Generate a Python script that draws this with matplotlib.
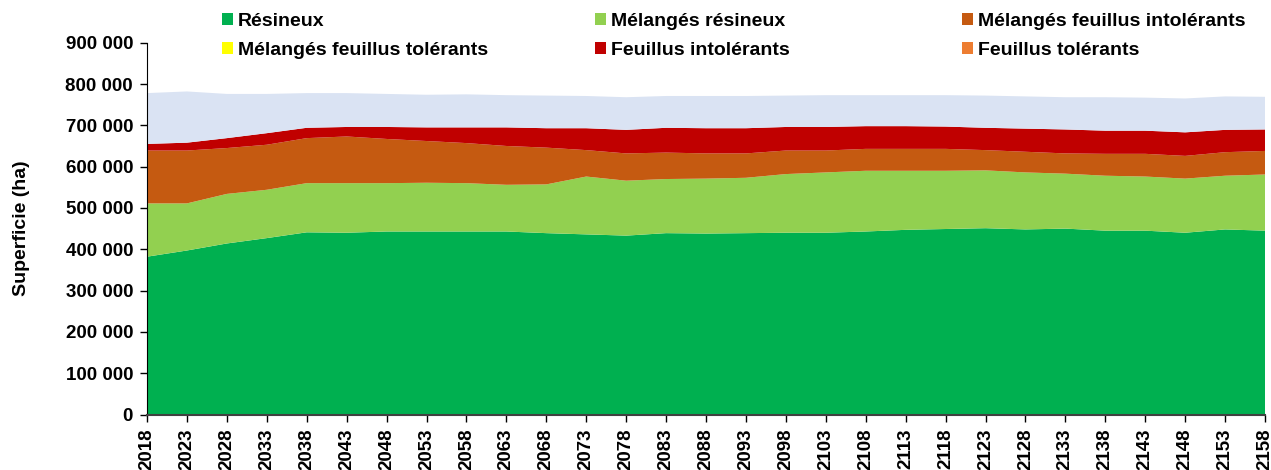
import numpy as np
import matplotlib
matplotlib.use("Agg")
import matplotlib.pyplot as plt
from matplotlib.patches import Patch
from matplotlib.ticker import FuncFormatter

# Données (ha)
annees = list(range(2018, 2159, 5))

resineux = [382000, 397000, 414000, 427000, 441000, 440000, 443000, 443000, 443000, 443000,
            439000, 436000, 433000, 439000, 438000, 439000, 440000, 440000, 443000, 447000,
            449000, 451000, 448000, 450000, 445000, 445000, 440000, 448000, 445000]
melanges_resineux = [129000, 114000, 120000, 117000, 119000, 120000, 117000, 118000, 117000, 113000,
                     118000, 140000, 133000, 131000, 133000, 134000, 142000, 146000, 147000, 143000,
                     141000, 140000, 138000, 133000, 133000, 131000, 131000, 130000, 136000]
melanges_feuillus_into = [128000, 128000, 111000, 109000, 109000, 113000, 107000, 101000, 97000, 94000,
                          89000, 64000, 66000, 64000, 61000, 59000, 57000, 53000, 53000, 53000,
                          53000, 49000, 50000, 49000, 53000, 55000, 55000, 57000, 57000]
melanges_feuillus_tol = [0] * 29
feuillus_into = [16000, 19000, 24000, 28000, 25000, 23000, 29000, 33000, 38000, 45000,
                 47000, 53000, 57000, 60000, 61000, 61000, 57000, 57000, 55000, 55000,
                 54000, 54000, 56000, 58000, 56000, 56000, 57000, 54000, 52000]
feuillus_tol = [0] * 29
autres = [123000, 124000, 107000, 95000, 84000, 82000, 80000, 79000, 80000, 78000,
          79000, 78000, 79000, 77000, 78000, 78000, 76000, 77000, 75000, 75000,
          76000, 78000, 78000, 78000, 81000, 80000, 82000, 81000, 79000]

noms = ["Résineux", "Mélangés résineux", "Mélangés feuillus intolérants",
        "Mélangés feuillus tolérants", "Feuillus intolérants", "Feuillus tolérants"]
couleurs = ["#00B050", "#92D050", "#C55A11", "#FFFF00", "#C00000", "#ED7D31"]
couleur_autres = "#DAE3F3"

plt.rcParams['font.family'] = ['Liberation Sans', 'DejaVu Sans']

fig = plt.figure(figsize=(12.71, 4.70), dpi=100)
ax = fig.add_axes([147 / 1271, 1 - 414.5 / 470, (1265 - 147) / 1271, (414.5 - 42.7) / 470])

ax.stackplot(annees, resineux, melanges_resineux, melanges_feuillus_into, melanges_feuillus_tol,
             feuillus_into, feuillus_tol, autres,
             colors=couleurs + [couleur_autres], linewidth=0)

ax.set_xlim(2018, 2158)
ax.set_ylim(0, 900000)
ax.set_xticks(annees)
ax.set_xticklabels([str(a) for a in annees], rotation=90, fontsize=13.5, fontweight='bold')
ax.set_yticks(range(0, 900001, 100000))
ax.yaxis.set_major_formatter(FuncFormatter(lambda v, p: f"{int(v):,}".replace(",", " ")))
for lab in ax.get_yticklabels():
    lab.set_fontsize(13.5)
    lab.set_fontweight('bold')
ax.tick_params(axis='both', direction='out', length=5, width=1, colors='black', pad=5)

ax.spines['top'].set_visible(False)
ax.spines['right'].set_visible(False)
ax.spines['left'].set_color('black')
ax.spines['bottom'].set_color('#404040')
ax.spines['bottom'].set_linewidth(1.5)

fig.text(22 / 1271, 1 - 228.6 / 470, "Superficie (ha)", rotation=90, ha='center', va='center',
         fontsize=14, fontweight='bold')

# Légende en trois colonnes
colonnes = [(0, 3, 222), (1, 4, 595), (2, 5, 962)]
for i, j, xpix in colonnes:
    poignees = [Patch(facecolor=couleurs[i], edgecolor='none'),
                Patch(facecolor=couleurs[j], edgecolor='none')]
    leg = fig.legend(poignees, [noms[i], noms[j]], loc='upper left',
                     bbox_to_anchor=(xpix / 1271, 1 - 13 / 470), frameon=False,
                     prop={'size': 14, 'weight': 'bold'}, handlelength=0.55, handleheight=0.55,
                     handletextpad=0.25, labelspacing=0.62, borderpad=0, borderaxespad=0)

fig.savefig("out.png", dpi=100)
